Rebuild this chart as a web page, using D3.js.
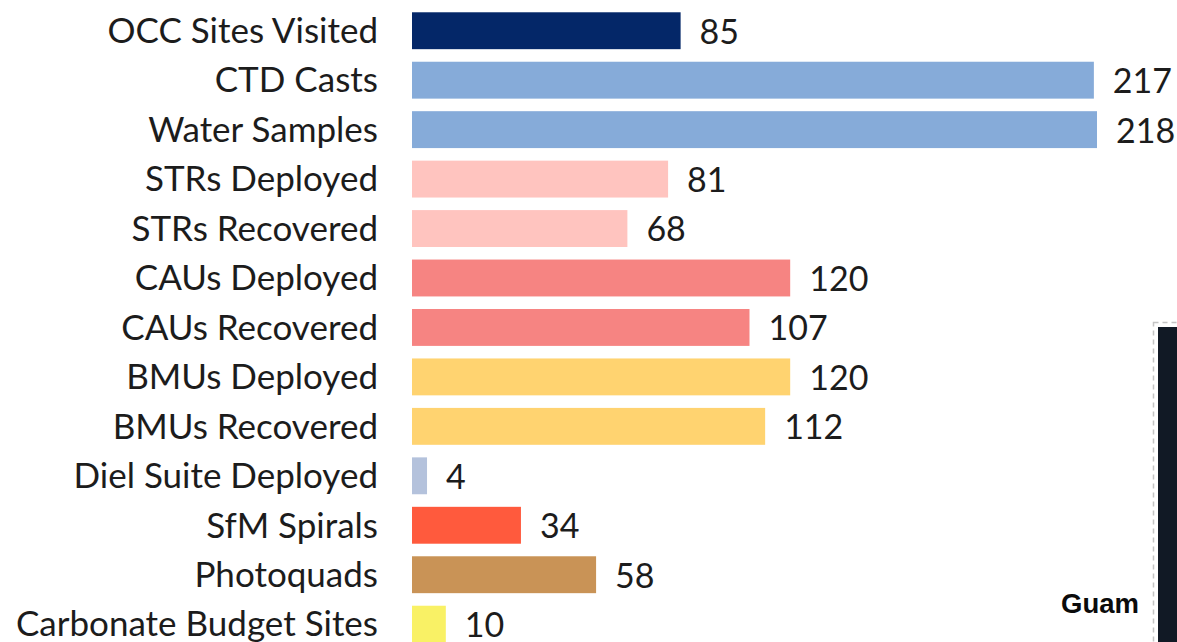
<!DOCTYPE html>
<html>
<head>
<meta charset="utf-8">
<style>
html,body{margin:0;padding:0;background:#fff;overflow:hidden}
svg{display:block}
.label{font-family:Lato,"Noto Sans",sans-serif;font-size:35px;fill:#1c1c1c}
.value{font-family:Lato,"Noto Sans",sans-serif;font-size:34px;fill:#1c1c1c}
.inset-label{font-family:"Liberation Sans",Arial,sans-serif;font-weight:700;font-size:27.5px;fill:#0b0b0b}
</style>
</head>
<body>
<svg id="chart" width="1177" height="642"></svg>
<script src="https://cdn.jsdelivr.net/npm/d3@7"></script>
<script>
// Survey activity counts
const categories = ["OCC Sites Visited","CTD Casts","Water Samples","STRs Deployed","STRs Recovered","CAUs Deployed","CAUs Recovered","BMUs Deployed","BMUs Recovered","Diel Suite Deployed","SfM Spirals","Photoquads","Carbonate Budget Sites"];
const values = [85,217,218,81,68,120,107,120,112,4,34,58,10];
const colors = ["#042768","#86abd9","#86abd9","#ffc4bf","#ffc4bf","#f68482","#f68482","#ffd370","#ffd370","#b4c2dc","#ff5a3d","#c99356","#f9f165"];

const svg = d3.select("#chart");
const x = d3.scaleLinear().domain([-0.8,218]).range([412,1097]);
const y = d3.scaleBand().domain(categories).range([6,648.9]).paddingInner(0.254).paddingOuter(0.127);

svg.selectAll("rect.bar").data(categories).join("rect")
  .attr("class","bar")
  .attr("x",x.range()[0])
  .attr("y",d=>y(d))
  .attr("width",(d,i)=>x(values[i])-x.range()[0])
  .attr("height",y.bandwidth())
  .attr("fill",(d,i)=>colors[i]);

svg.selectAll("text.label").data(categories).join("text")
  .attr("class","label")
  .attr("x",378)
  .attr("y",d=>y(d)+y.bandwidth()/2)
  .attr("dy","0.35em")
  .attr("text-anchor","end")
  .text(d=>d);

svg.selectAll("text.value").data(categories).join("text")
  .attr("class","value")
  .attr("x",(d,i)=>x(values[i])+19)
  .attr("y",d=>y(d)+y.bandwidth()/2)
  .attr("dy","0.38em")
  .text((d,i)=>values[i]);

// Map inset at the lower right corner, cropped by the page edge
svg.append("rect").attr("x",1153.5).attr("y",322.5).attr("width",40).attr("height",340)
  .attr("fill","none").attr("stroke","#c4c4c4").attr("stroke-width",1.5).attr("stroke-dasharray","5 4");
svg.append("rect").attr("x",1158).attr("y",327).attr("width",30).attr("height",330).attr("fill","#111925");
svg.append("text").attr("class","inset-label").attr("x",1139).attr("y",613).attr("text-anchor","end").text("Guam");
</script>
</body>
</html>
